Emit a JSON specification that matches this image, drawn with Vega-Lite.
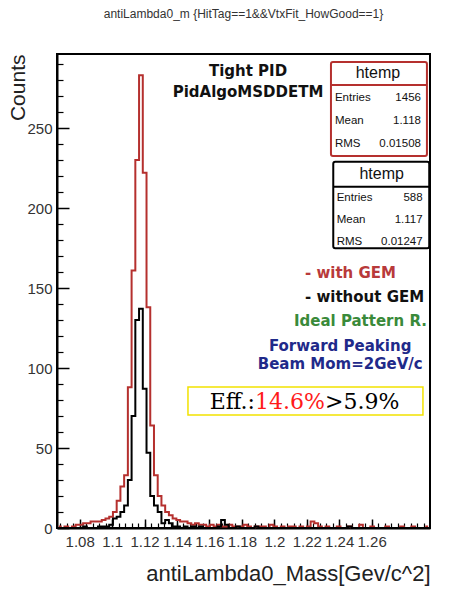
{
  "$schema": "https://vega.github.io/schema/vega-lite/v6.json",
  "width": 373,
  "height": 474,
  "autosize": "none",
  "padding": {"left": 57, "top": 54, "right": 26, "bottom": 61},
  "background": "white",
  "title": {
    "text": "antiLambda0_m {HitTag==1&&VtxFit_HowGood==1}",
    "anchor": "middle",
    "offset": 33,
    "font": "Liberation Sans",
    "fontSize": 12,
    "fontWeight": "normal",
    "color": "#333"
  },
  "config": {
    "view": {"stroke": "black", "strokeWidth": 2},
    "font": "Liberation Sans"
  },
  "data": {
    "values": [
      {"mass": 1.06715, "withGEM": 1, "withoutGEM": 0},
      {"mass": 1.06945, "withGEM": 0, "withoutGEM": 0},
      {"mass": 1.07175, "withGEM": 1, "withoutGEM": 0},
      {"mass": 1.07405, "withGEM": 0, "withoutGEM": 0},
      {"mass": 1.07635, "withGEM": 1, "withoutGEM": 0},
      {"mass": 1.07865, "withGEM": 2, "withoutGEM": 0},
      {"mass": 1.08095, "withGEM": 2, "withoutGEM": 0},
      {"mass": 1.08325, "withGEM": 3, "withoutGEM": 1},
      {"mass": 1.08555, "withGEM": 3, "withoutGEM": 0},
      {"mass": 1.08785, "withGEM": 4, "withoutGEM": 0},
      {"mass": 1.09015, "withGEM": 4, "withoutGEM": 0},
      {"mass": 1.09245, "withGEM": 4, "withoutGEM": 1},
      {"mass": 1.09475, "withGEM": 5, "withoutGEM": 1},
      {"mass": 1.09705, "withGEM": 6, "withoutGEM": 1},
      {"mass": 1.09935, "withGEM": 7, "withoutGEM": 2},
      {"mass": 1.10165, "withGEM": 10, "withoutGEM": 6},
      {"mass": 1.10395, "withGEM": 17, "withoutGEM": 7},
      {"mass": 1.10625, "withGEM": 26, "withoutGEM": 10},
      {"mass": 1.10855, "withGEM": 33, "withoutGEM": 14},
      {"mass": 1.11085, "withGEM": 88, "withoutGEM": 30},
      {"mass": 1.11315, "withGEM": 161, "withoutGEM": 70},
      {"mass": 1.11545, "withGEM": 230, "withoutGEM": 130},
      {"mass": 1.11775, "withGEM": 283, "withoutGEM": 137},
      {"mass": 1.12005, "withGEM": 222, "withoutGEM": 87},
      {"mass": 1.12235, "withGEM": 138, "withoutGEM": 47},
      {"mass": 1.12465, "withGEM": 64, "withoutGEM": 20},
      {"mass": 1.12695, "withGEM": 33, "withoutGEM": 14},
      {"mass": 1.12925, "withGEM": 20, "withoutGEM": 10},
      {"mass": 1.13155, "withGEM": 14, "withoutGEM": 3},
      {"mass": 1.13385, "withGEM": 10, "withoutGEM": 5},
      {"mass": 1.13615, "withGEM": 8, "withoutGEM": 3},
      {"mass": 1.13845, "withGEM": 6, "withoutGEM": 1},
      {"mass": 1.14075, "withGEM": 5, "withoutGEM": 1},
      {"mass": 1.14305, "withGEM": 4, "withoutGEM": 0},
      {"mass": 1.14535, "withGEM": 4, "withoutGEM": 1},
      {"mass": 1.14765, "withGEM": 3, "withoutGEM": 0},
      {"mass": 1.14995, "withGEM": 2, "withoutGEM": 1},
      {"mass": 1.15225, "withGEM": 3, "withoutGEM": 0},
      {"mass": 1.15455, "withGEM": 2, "withoutGEM": 1},
      {"mass": 1.15685, "withGEM": 2, "withoutGEM": 0},
      {"mass": 1.15915, "withGEM": 1, "withoutGEM": 0},
      {"mass": 1.16145, "withGEM": 2, "withoutGEM": 0},
      {"mass": 1.16375, "withGEM": 1, "withoutGEM": 0},
      {"mass": 1.16605, "withGEM": 2, "withoutGEM": 1},
      {"mass": 1.16835, "withGEM": 1, "withoutGEM": 5},
      {"mass": 1.17065, "withGEM": 1, "withoutGEM": 2},
      {"mass": 1.17295, "withGEM": 2, "withoutGEM": 0},
      {"mass": 1.17525, "withGEM": 1, "withoutGEM": 0},
      {"mass": 1.17755, "withGEM": 1, "withoutGEM": 1},
      {"mass": 1.17985, "withGEM": 1, "withoutGEM": 0},
      {"mass": 1.18215, "withGEM": 2, "withoutGEM": 0},
      {"mass": 1.18445, "withGEM": 1, "withoutGEM": 0},
      {"mass": 1.18675, "withGEM": 0, "withoutGEM": 0},
      {"mass": 1.18905, "withGEM": 1, "withoutGEM": 1},
      {"mass": 1.19135, "withGEM": 1, "withoutGEM": 0},
      {"mass": 1.19365, "withGEM": 1, "withoutGEM": 0},
      {"mass": 1.19595, "withGEM": 0, "withoutGEM": 0},
      {"mass": 1.19825, "withGEM": 2, "withoutGEM": 0},
      {"mass": 1.20055, "withGEM": 1, "withoutGEM": 0},
      {"mass": 1.20285, "withGEM": 0, "withoutGEM": 0},
      {"mass": 1.20515, "withGEM": 1, "withoutGEM": 0},
      {"mass": 1.20745, "withGEM": 0, "withoutGEM": 0},
      {"mass": 1.20975, "withGEM": 1, "withoutGEM": 0},
      {"mass": 1.21205, "withGEM": 1, "withoutGEM": 0},
      {"mass": 1.21435, "withGEM": 0, "withoutGEM": 0},
      {"mass": 1.21665, "withGEM": 1, "withoutGEM": 0},
      {"mass": 1.21895, "withGEM": 0, "withoutGEM": 0},
      {"mass": 1.22125, "withGEM": 1, "withoutGEM": 0},
      {"mass": 1.22355, "withGEM": 4, "withoutGEM": 0},
      {"mass": 1.22585, "withGEM": 3, "withoutGEM": 0},
      {"mass": 1.22815, "withGEM": 1, "withoutGEM": 0},
      {"mass": 1.23045, "withGEM": 0, "withoutGEM": 0},
      {"mass": 1.23275, "withGEM": 1, "withoutGEM": 0},
      {"mass": 1.23505, "withGEM": 0, "withoutGEM": 0},
      {"mass": 1.23735, "withGEM": 0, "withoutGEM": 0},
      {"mass": 1.23965, "withGEM": 1, "withoutGEM": 0},
      {"mass": 1.24195, "withGEM": 0, "withoutGEM": 0},
      {"mass": 1.24425, "withGEM": 0, "withoutGEM": 0},
      {"mass": 1.24655, "withGEM": 1, "withoutGEM": 1},
      {"mass": 1.24885, "withGEM": 0, "withoutGEM": 0},
      {"mass": 1.25115, "withGEM": 0, "withoutGEM": 0},
      {"mass": 1.25345, "withGEM": 2, "withoutGEM": 0},
      {"mass": 1.25575, "withGEM": 0, "withoutGEM": 0},
      {"mass": 1.25805, "withGEM": 0, "withoutGEM": 0},
      {"mass": 1.26035, "withGEM": 1, "withoutGEM": 0},
      {"mass": 1.26265, "withGEM": 0, "withoutGEM": 0},
      {"mass": 1.26495, "withGEM": 0, "withoutGEM": 0},
      {"mass": 1.26725, "withGEM": 0, "withoutGEM": 0},
      {"mass": 1.26955, "withGEM": 1, "withoutGEM": 0},
      {"mass": 1.27185, "withGEM": 0, "withoutGEM": 0},
      {"mass": 1.27415, "withGEM": 0, "withoutGEM": 0},
      {"mass": 1.27645, "withGEM": 0, "withoutGEM": 0},
      {"mass": 1.27875, "withGEM": 1, "withoutGEM": 0},
      {"mass": 1.28105, "withGEM": 0, "withoutGEM": 0},
      {"mass": 1.28335, "withGEM": 0, "withoutGEM": 0},
      {"mass": 1.28565, "withGEM": 1, "withoutGEM": 0},
      {"mass": 1.28795, "withGEM": 0, "withoutGEM": 0},
      {"mass": 1.29025, "withGEM": 0, "withoutGEM": 0},
      {"mass": 1.29255, "withGEM": 0, "withoutGEM": 0},
      {"mass": 1.29485, "withGEM": 1, "withoutGEM": 0}
    ]
  },
  "resolve": {"axis": {"x": "independent", "y": "independent"}},
  "layer": [
    {
      "mark": {"type": "line", "interpolate": "step", "color": "#b5302e", "strokeWidth": 2},
      "encoding": {
        "x": {
          "field": "mass", "type": "quantitative",
          "scale": {"domain": [1.066, 1.296], "nice": false, "zero": false},
          "axis": {
            "orient": "bottom",
            "values": [1.08, 1.1, 1.12, 1.14, 1.16, 1.18, 1.2, 1.22, 1.24, 1.26],
            "format": ".3~g",
            "grid": false,
            "domainColor": "black", "domainWidth": 2,
            "tickColor": "black", "tickWidth": 1.5, "tickSize": -9,
            "labelFont": "Liberation Sans", "labelFontSize": 15, "labelColor": "#333",
            "labelPadding": 15, "labelFlush": false, "labelOverlap": false,
            "title": "antiLambda0_Mass[Gev/c^2]",
            "titleAnchor": "end", "titleFont": "Liberation Sans", "titleFontSize": 22,
            "titleFontWeight": "normal", "titleColor": "#222", "titlePadding": 14
          }
        },
        "y": {
          "field": "withGEM", "type": "quantitative",
          "scale": {"domain": [0, 296.25], "nice": false},
          "axis": {
            "orient": "left",
            "values": [0, 50, 100, 150, 200, 250],
            "grid": false,
            "domainColor": "black", "domainWidth": 2,
            "tickColor": "black", "tickWidth": 1.5, "tickSize": -12,
            "labelFont": "Liberation Sans", "labelFontSize": 15, "labelColor": "#333",
            "labelPadding": 17, "labelFlush": false, "labelOverlap": false,
            "title": "Counts",
            "titleAnchor": "end", "titleFont": "Liberation Sans", "titleFontSize": 21,
            "titleFontWeight": "normal", "titleColor": "#222", "titlePadding": -2
          }
        }
      }
    },
    {
      "mark": {"type": "line", "interpolate": "step", "color": "black", "strokeWidth": 2},
      "encoding": {
        "x": {
          "field": "mass", "type": "quantitative",
          "axis": {
            "orient": "bottom",
            "values": [1.068, 1.072, 1.076, 1.08, 1.084, 1.088, 1.092, 1.096, 1.1, 1.104, 1.108, 1.112, 1.116, 1.12, 1.124, 1.128, 1.132, 1.136, 1.14, 1.144, 1.148, 1.152, 1.156, 1.16, 1.164, 1.168, 1.172, 1.176, 1.18, 1.184, 1.188, 1.192, 1.196, 1.2, 1.204, 1.208, 1.212, 1.216, 1.22, 1.224, 1.228, 1.232, 1.236, 1.24, 1.244, 1.248, 1.252, 1.256, 1.26, 1.264, 1.268, 1.272, 1.276, 1.28, 1.284, 1.288, 1.292],
            "grid": false, "domain": false, "labels": false, "title": null,
            "tickColor": "black", "tickWidth": 1.2, "tickSize": -5
          }
        },
        "y": {
          "field": "withoutGEM", "type": "quantitative",
          "axis": {
            "orient": "left",
            "values": [10, 20, 30, 40, 60, 70, 80, 90, 110, 120, 130, 140, 160, 170, 180, 190, 210, 220, 230, 240, 260, 270, 280, 290],
            "grid": false, "domain": false, "labels": false, "title": null,
            "tickColor": "black", "tickWidth": 1.2, "tickSize": -6
          }
        }
      }
    },
    {
      "data": {"values": [{}]},
      "mark": {"type": "rect", "fill": "white", "stroke": "#b5302e", "strokeWidth": 2, "cornerRadius": 2},
      "encoding": {
        "x": {"datum": 1.23493, "type": "quantitative", "axis": null},
        "x2": {"datum": 1.29411},
        "y": {"datum": 291.25, "type": "quantitative", "axis": null},
        "y2": {"datum": 232.5}
      }
    },
    {
      "data": {"values": [{}]},
      "mark": {"type": "rule", "stroke": "#b5302e", "strokeWidth": 2},
      "encoding": {
        "x": {"datum": 1.23493, "type": "quantitative", "axis": null},
        "x2": {"datum": 1.29411},
        "y": {"datum": 276.9, "type": "quantitative", "axis": null}
      }
    },
    {
      "data": {"values": [{}]},
      "mark": {"type": "rect", "fill": "white", "stroke": "black", "strokeWidth": 2, "cornerRadius": 2},
      "encoding": {
        "x": {"datum": 1.23635, "type": "quantitative", "axis": null},
        "x2": {"datum": 1.29553},
        "y": {"datum": 228.9, "type": "quantitative", "axis": null},
        "y2": {"datum": 174.8}
      }
    },
    {
      "data": {"values": [{}]},
      "mark": {"type": "rule", "stroke": "black", "strokeWidth": 2},
      "encoding": {
        "x": {"datum": 1.23635, "type": "quantitative", "axis": null},
        "x2": {"datum": 1.29553},
        "y": {"datum": 213.3, "type": "quantitative", "axis": null}
      }
    },
    {
      "data": {"values": [{}]},
      "mark": {"type": "rect", "fill": "white", "stroke": "#f2e200", "strokeWidth": 1.5},
      "encoding": {
        "x": {"datum": 1.14676, "type": "quantitative", "axis": null},
        "x2": {"datum": 1.29165},
        "y": {"datum": 88.1, "type": "quantitative", "axis": null},
        "y2": {"datum": 70.6}
      }
    },
    {
      "data": {"values": [{}]},
      "mark": {"type": "text", "font": "DejaVu Sans", "fontWeight": "bold", "fontSize": 15, "color": "#111", "align": "center", "baseline": "middle", "lineHeight": 21},
      "encoding": {
        "x": {"datum": 1.1838, "type": "quantitative", "axis": null},
        "y": {"datum": 285.6, "type": "quantitative", "axis": null},
        "text": {"value": ["Tight PID", "PidAlgoMSDDETM"]}
      }
    },
    {
      "data": {"values": [{}]},
      "mark": {"type": "text", "font": "Liberation Sans", "fontSize": 16, "color": "#111", "align": "center", "baseline": "middle"},
      "encoding": {
        "x": {"datum": 1.2639, "type": "quantitative", "axis": null},
        "y": {"datum": 284.2, "type": "quantitative", "axis": null},
        "text": {"value": "htemp"}
      }
    },
    {
      "data": {"values": [{}]},
      "mark": {"type": "text", "font": "Liberation Sans", "fontSize": 11.5, "color": "#111", "align": "left", "baseline": "middle", "lineHeight": 23},
      "encoding": {
        "x": {"datum": 1.23739, "type": "quantitative", "axis": null},
        "y": {"datum": 268.9, "type": "quantitative", "axis": null},
        "text": {"value": ["Entries", "Mean", "RMS"]}
      }
    },
    {
      "data": {"values": [{}]},
      "mark": {"type": "text", "font": "Liberation Sans", "fontSize": 11.5, "color": "#111", "align": "right", "baseline": "middle", "lineHeight": 23},
      "encoding": {
        "x": {"datum": 1.29041, "type": "quantitative", "axis": null},
        "y": {"datum": 268.9, "type": "quantitative", "axis": null},
        "text": {"value": ["1456", "1.118", "0.01508"]}
      }
    },
    {
      "data": {"values": [{}]},
      "mark": {"type": "text", "font": "Liberation Sans", "fontSize": 16, "color": "#111", "align": "center", "baseline": "middle"},
      "encoding": {
        "x": {"datum": 1.26619, "type": "quantitative", "axis": null},
        "y": {"datum": 221.25, "type": "quantitative", "axis": null},
        "text": {"value": "htemp"}
      }
    },
    {
      "data": {"values": [{}]},
      "mark": {"type": "text", "font": "Liberation Sans", "fontSize": 11.5, "color": "#111", "align": "left", "baseline": "middle", "lineHeight": 22},
      "encoding": {
        "x": {"datum": 1.23844, "type": "quantitative", "axis": null},
        "y": {"datum": 206.4, "type": "quantitative", "axis": null},
        "text": {"value": ["Entries", "Mean", "RMS"]}
      }
    },
    {
      "data": {"values": [{}]},
      "mark": {"type": "text", "font": "Liberation Sans", "fontSize": 11.5, "color": "#111", "align": "right", "baseline": "middle", "lineHeight": 22},
      "encoding": {
        "x": {"datum": 1.29146, "type": "quantitative", "axis": null},
        "y": {"datum": 206.4, "type": "quantitative", "axis": null},
        "text": {"value": ["588", "1.117", "0.01247"]}
      }
    },
    {
      "data": {"values": [{}]},
      "mark": {"type": "text", "font": "DejaVu Sans", "fontWeight": "bold", "fontSize": 15, "color": "#b83a3a", "align": "left", "baseline": "middle"},
      "encoding": {
        "x": {"datum": 1.2189, "type": "quantitative", "axis": null},
        "y": {"datum": 159.4, "type": "quantitative", "axis": null},
        "text": {"value": "- with GEM"}
      }
    },
    {
      "data": {"values": [{}]},
      "mark": {"type": "text", "font": "DejaVu Sans", "fontWeight": "bold", "fontSize": 15, "color": "#111", "align": "left", "baseline": "middle"},
      "encoding": {
        "x": {"datum": 1.2189, "type": "quantitative", "axis": null},
        "y": {"datum": 144.4, "type": "quantitative", "axis": null},
        "text": {"value": "- without GEM"}
      }
    },
    {
      "data": {"values": [{}]},
      "mark": {"type": "text", "font": "DejaVu Sans", "fontWeight": "bold", "fontSize": 15, "color": "#3a8a3a", "align": "right", "baseline": "middle"},
      "encoding": {
        "x": {"datum": 1.29411, "type": "quantitative", "axis": null},
        "y": {"datum": 129.4, "type": "quantitative", "axis": null},
        "text": {"value": "Ideal Pattern R."}
      }
    },
    {
      "data": {"values": [{}]},
      "mark": {"type": "text", "font": "DejaVu Sans", "fontWeight": "bold", "fontSize": 15, "color": "#1f2a8a", "align": "center", "baseline": "middle", "lineHeight": 17.5},
      "encoding": {
        "x": {"datum": 1.2406, "type": "quantitative", "axis": null},
        "y": {"datum": 113.75, "type": "quantitative", "axis": null},
        "text": {"value": ["Forward Peaking", "Beam Mom=2GeV/c"]}
      }
    },
    {
      "data": {"values": [{}]},
      "mark": {"type": "text", "font": "DejaVu Serif", "fontSize": 22, "color": "black", "align": "right", "baseline": "middle"},
      "encoding": {
        "x": {"datum": 1.18807, "type": "quantitative", "axis": null},
        "y": {"datum": 78.75, "type": "quantitative", "axis": null},
        "text": {"value": "Eff.:"}
      }
    },
    {
      "data": {"values": [{}]},
      "mark": {"type": "text", "font": "DejaVu Serif", "fontSize": 22, "color": "#ff1a1a", "align": "left", "baseline": "middle"},
      "encoding": {
        "x": {"datum": 1.18807, "type": "quantitative", "axis": null},
        "y": {"datum": 78.75, "type": "quantitative", "axis": null},
        "text": {"value": "14.6%"}
      }
    },
    {
      "data": {"values": [{}]},
      "mark": {"type": "text", "font": "DejaVu Serif", "fontSize": 22, "color": "black", "align": "left", "baseline": "middle"},
      "encoding": {
        "x": {"datum": 1.23123, "type": "quantitative", "axis": null},
        "y": {"datum": 78.75, "type": "quantitative", "axis": null},
        "text": {"value": ">5.9%"}
      }
    }
  ]
}
